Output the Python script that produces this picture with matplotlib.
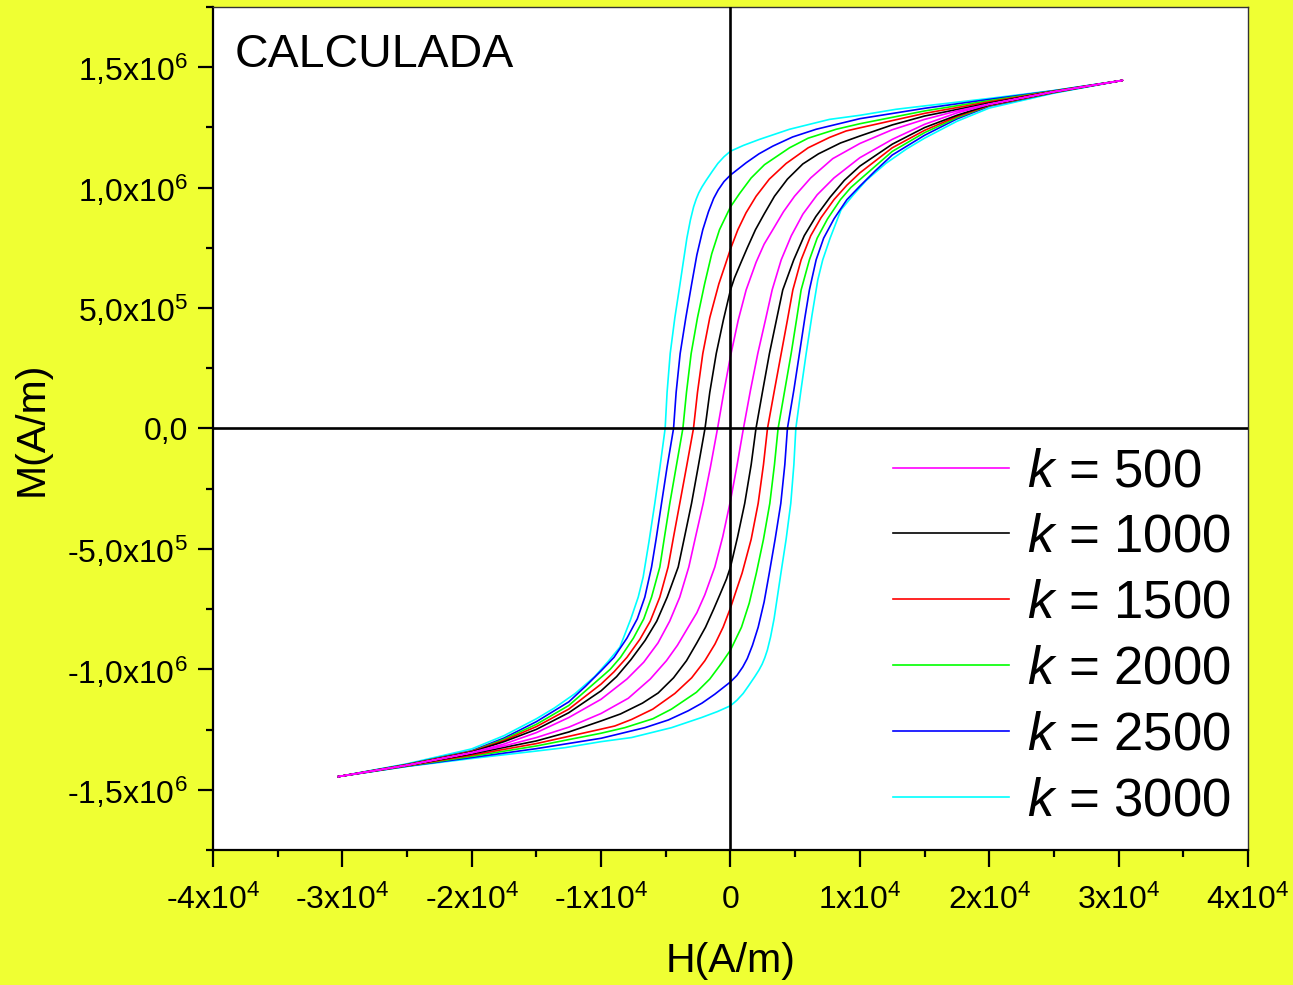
import numpy as np
import matplotlib
matplotlib.use("Agg")
import matplotlib.pyplot as plt

plt.rcParams['font.family'] = ['Liberation Sans', 'DejaVu Sans']
plt.rcParams['mathtext.fontset'] = 'custom'
plt.rcParams['mathtext.rm'] = 'Liberation Sans'
plt.rcParams['mathtext.it'] = 'Liberation Sans:italic'

# values, H in 1e4 A/m, M in 1e6 A/m
k_values = [500, 1000, 1500, 2000, 2500, 3000]
colors = ['#FF00FF', '#000000', '#FF0000', '#00FF00', '#0000FF', '#00FFFF']

# descending branch, part with M >= 0 (from -Hc to H max)
up_H_500 = [-0.10, -0.05, 0.0, 0.06, 0.121, 0.198, 0.26, 0.327, 0.41, 0.495, 0.62, 0.79, 1.0, 1.25, 1.5, 1.75, 2.0, 2.5, 3.03]
up_M_500 = [0.0, 0.155, 0.30, 0.45, 0.575, 0.69, 0.765, 0.825, 0.90, 0.964, 1.04, 1.12, 1.183, 1.24, 1.283, 1.318, 1.347, 1.398, 1.445]
up_H_1000 = [-0.197, -0.16, -0.11, -0.055, 0.0, 0.031, 0.082, 0.13, 0.193, 0.26, 0.34, 0.44, 0.559, 0.68, 0.85, 1.0, 1.25, 1.5, 2.0, 2.5, 3.03]
up_M_1000 = [0.0, 0.15, 0.311, 0.45, 0.575, 0.625, 0.69, 0.75, 0.825, 0.89, 0.964, 1.035, 1.098, 1.14, 1.185, 1.214, 1.26, 1.297, 1.351, 1.399, 1.445]
up_H_1500 = [-0.286, -0.255, -0.214, -0.16, -0.09, -0.04, 0.0, 0.057, 0.12, 0.198, 0.30, 0.43, 0.60, 0.765, 0.894, 1.0, 1.5, 2.0, 2.5, 3.03]
up_M_1500 = [0.0, 0.15, 0.311, 0.46, 0.60, 0.68, 0.745, 0.825, 0.895, 0.964, 1.035, 1.10, 1.165, 1.208, 1.235, 1.248, 1.308, 1.356, 1.40, 1.445]
up_H_2000 = [-0.368, -0.34, -0.304, -0.255, -0.20, -0.145, -0.085, 0.0, 0.07, 0.16, 0.263, 0.456, 0.60, 0.817, 1.0, 1.5, 2.0, 2.5, 3.03]
up_M_2000 = [0.0, 0.15, 0.311, 0.46, 0.60, 0.725, 0.825, 0.92, 0.975, 1.04, 1.095, 1.165, 1.205, 1.242, 1.265, 1.318, 1.361, 1.401, 1.445]
up_H_2500 = [-0.44, -0.42, -0.389, -0.345, -0.30, -0.26, -0.214, -0.17, -0.13, -0.095, -0.05, 0.0, 0.121, 0.22, 0.327, 0.48, 0.662, 1.0, 1.5, 2.0, 2.5, 3.03]
up_M_2500 = [0.0, 0.15, 0.311, 0.46, 0.60, 0.72, 0.825, 0.90, 0.955, 0.99, 1.025, 1.052, 1.103, 1.14, 1.172, 1.21, 1.242, 1.286, 1.329, 1.366, 1.402, 1.445]
up_H_3000 = [-0.505, -0.49, -0.466, -0.43, -0.39, -0.365, -0.337, -0.31, -0.285, -0.265, -0.245, -0.22, -0.188, -0.14, -0.098, -0.05, 0.0, 0.1, 0.224, 0.456, 0.765, 1.0, 1.28, 1.5, 2.0, 2.5, 3.03]
up_M_3000 = [0.0, 0.15, 0.311, 0.46, 0.60, 0.69, 0.79, 0.865, 0.92, 0.952, 0.978, 1.003, 1.03, 1.068, 1.10, 1.128, 1.151, 1.175, 1.20, 1.242, 1.283, 1.30, 1.325, 1.339, 1.37, 1.403, 1.445]

# ascending branch, first quadrant part (from Hc to H max)
lo_H_500 = [0.10, 0.155, 0.211, 0.27, 0.322, 0.392, 0.47, 0.56, 0.67, 0.80, 1.0, 1.25, 1.5, 1.75, 2.0, 2.5, 3.03]
lo_M_500 = [0.0, 0.16, 0.311, 0.45, 0.575, 0.70, 0.80, 0.89, 0.97, 1.04, 1.124, 1.20, 1.2625, 1.31, 1.345, 1.398, 1.445]
lo_H_1000 = [0.197, 0.25, 0.301, 0.355, 0.404, 0.489, 0.57, 0.66, 0.77, 0.88, 1.0, 1.25, 1.5, 1.75, 2.0, 2.5, 3.03]
lo_M_1000 = [0.0, 0.16, 0.311, 0.45, 0.575, 0.70, 0.80, 0.88, 0.96, 1.03, 1.089, 1.18, 1.249, 1.30, 1.343, 1.397, 1.445]
lo_H_1500 = [0.286, 0.34, 0.392, 0.44, 0.482, 0.546, 0.62, 0.70, 0.80, 0.90, 1.0, 1.25, 1.5, 1.75, 2.0, 2.5, 3.03]
lo_M_1500 = [0.0, 0.16, 0.311, 0.45, 0.575, 0.70, 0.80, 0.875, 0.95, 1.01, 1.061, 1.165, 1.2375, 1.295, 1.341, 1.396, 1.445]
lo_H_2000 = [0.368, 0.42, 0.469, 0.51, 0.546, 0.61, 0.67, 0.75, 0.85, 0.93, 1.0, 1.25, 1.5, 1.75, 2.0, 2.5, 3.03]
lo_M_2000 = [0.0, 0.16, 0.311, 0.45, 0.575, 0.70, 0.79, 0.87, 0.95, 1.0, 1.033, 1.15, 1.228, 1.29, 1.34, 1.395, 1.445]
lo_H_2500 = [0.44, 0.49, 0.533, 0.575, 0.61, 0.662, 0.72, 0.80, 0.90, 1.0, 1.12, 1.25, 1.5, 1.75, 2.0, 2.5, 3.03]
lo_M_2500 = [0.0, 0.16, 0.311, 0.46, 0.575, 0.70, 0.79, 0.87, 0.95, 1.006, 1.07, 1.135, 1.217, 1.285, 1.338, 1.394, 1.445]
lo_H_3000 = [0.505, 0.545, 0.585, 0.63, 0.675, 0.713, 0.77, 0.855, 0.95, 1.05, 1.2, 1.36, 1.5, 1.75, 2.0, 2.5, 3.03]
lo_M_3000 = [0.0, 0.16, 0.311, 0.47, 0.617, 0.70, 0.79, 0.908, 0.97, 1.03, 1.10, 1.16, 1.205, 1.275, 1.33, 1.392, 1.445]

ups = [(up_H_500, up_M_500), (up_H_1000, up_M_1000), (up_H_1500, up_M_1500),
       (up_H_2000, up_M_2000), (up_H_2500, up_M_2500), (up_H_3000, up_M_3000)]
los = [(lo_H_500, lo_M_500), (lo_H_1000, lo_M_1000), (lo_H_1500, lo_M_1500),
       (lo_H_2000, lo_M_2000), (lo_H_2500, lo_M_2500), (lo_H_3000, lo_M_3000)]

x_ticks = [-4e4, -3e4, -2e4, -1e4, 0, 1e4, 2e4, 3e4, 4e4]
x_labels = ['-4x10$^4$', '-3x10$^4$', '-2x10$^4$', '-1x10$^4$', '0',
            '1x10$^4$', '2x10$^4$', '3x10$^4$', '4x10$^4$']
y_ticks = [-1.5e6, -1.0e6, -5e5, 0, 5e5, 1.0e6, 1.5e6]
y_labels = ['-1,5x10$^6$', '-1,0x10$^6$', '-5,0x10$^5$', '0,0',
            '5,0x10$^5$', '1,0x10$^6$', '1,5x10$^6$']


def make_loop(up, lo):
    # loops are point-symmetric: the lower half is the upper half turned round
    uh, um = np.array(up[0]), np.array(up[1])
    lh, lm = np.array(lo[0]), np.array(lo[1])
    bh = np.concatenate([-lh[::-1], uh])
    bm = np.concatenate([-lm[::-1], um])
    h = np.concatenate([bh, -bh]) * 1e4
    m = np.concatenate([bm, -bm]) * 1e6
    return h, m


fig = plt.figure(figsize=(12.93, 9.85), dpi=100, facecolor='#EFFF33')
ax = fig.add_axes([0.1647, 0.137, 0.8005, 0.856])
ax.set_facecolor('white')

handles = [None] * len(k_values)
for i in range(len(k_values) - 1, -1, -1):
    h, m = make_loop(ups[i], los[i])
    line, = ax.plot(h, m, color=colors[i], lw=1.2, zorder=2 + (len(k_values) - i) * 0.01,
                    label=r'$k$ = %d' % k_values[i])
    handles[i] = line

ax.axhline(0, color='black', lw=1.9, zorder=3)
ax.axvline(0, color='black', lw=1.9, zorder=3)

ax.set_xlim(-4e4, 4e4)
ax.set_ylim(-1.75e6, 1.75e6)
ax.set_xticks(x_ticks)
ax.set_xticklabels(x_labels)
ax.set_yticks(y_ticks)
ax.set_yticklabels(y_labels)
ax.set_xticks(np.arange(-3.5e4, 4e4, 1e4), minor=True)
ax.set_yticks(np.arange(-1.75e6, 1.8e6, 2.5e5), minor=True)

ax.tick_params(which='major', direction='out', length=11, width=1.6, labelsize=23, pad=7)
ax.tick_params(which='minor', direction='out', length=5, width=1.6)
ax.tick_params(axis='x', which='major', length=12, pad=13)
ax.tick_params(top=False, right=False)

for s in ['left', 'bottom']:
    ax.spines[s].set_linewidth(1.6)
for s in ['top', 'right']:
    ax.spines[s].set_linewidth(1.0)
    ax.spines[s].set_color('#333333')

ax.set_xlabel('H(A/m)', fontsize=29.5, labelpad=19)
ax.set_ylabel('M(A/m)', fontsize=29.5, labelpad=12)

ax.text(0.021, 0.969, 'CALCULADA', transform=ax.transAxes, fontsize=33.5, va='top', ha='left')

ax.legend(handles=handles, loc='upper left', bbox_to_anchor=(0.657, 0.478), frameon=False,
          fontsize=38, handlelength=2.2, handletextpad=0.34, labelspacing=0.30,
          borderpad=0, borderaxespad=0)

fig.savefig('out.png', dpi=100, facecolor=fig.get_facecolor())
